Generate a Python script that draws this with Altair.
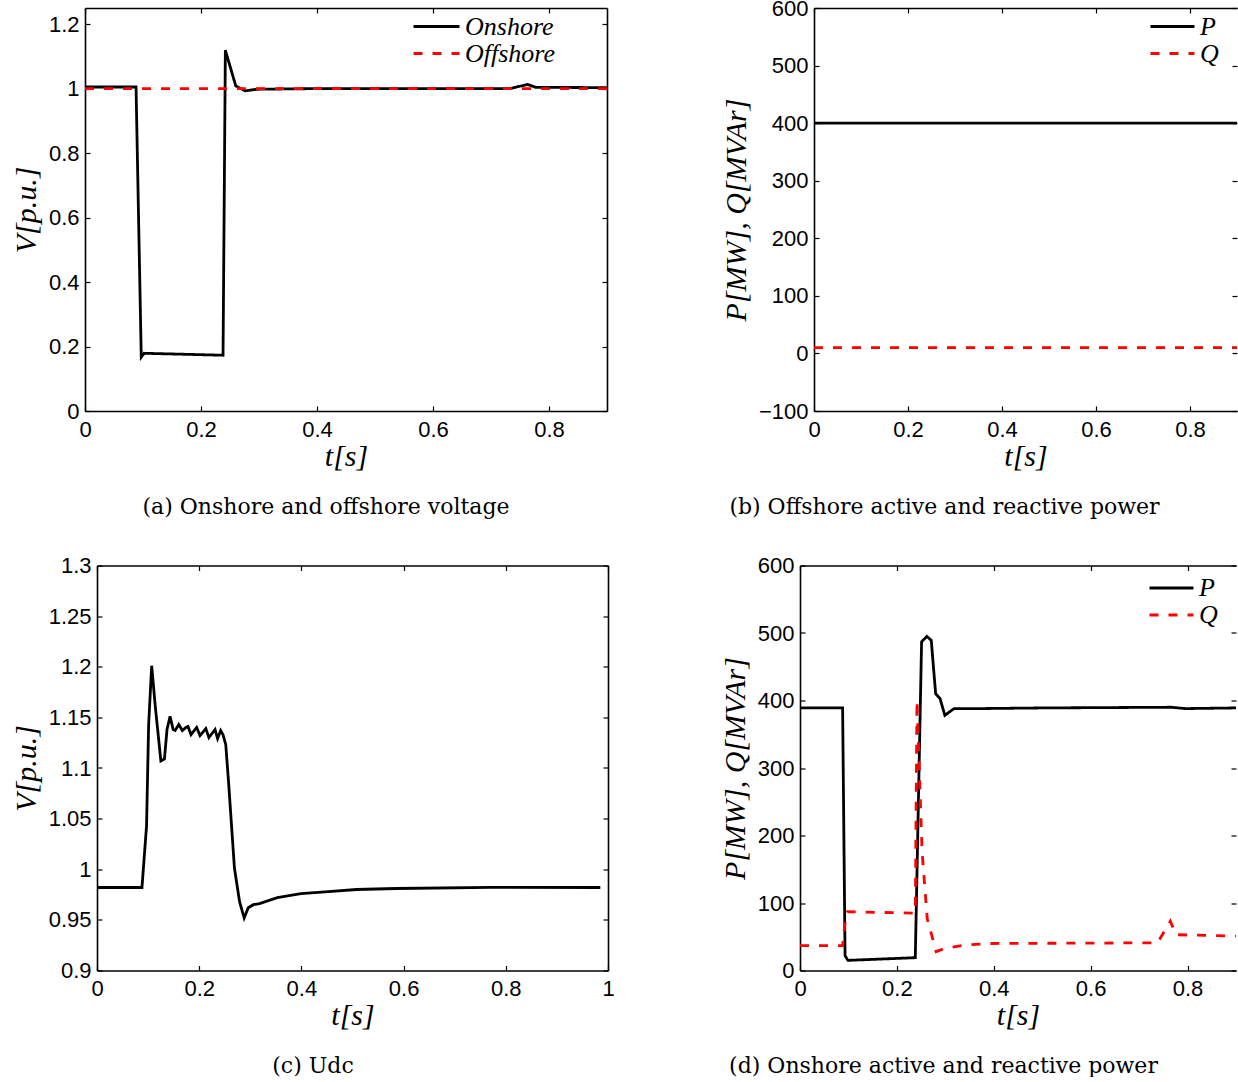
import altair as alt
import pandas as pd

# ---------------- data ----------------
# (a) onshore / offshore voltage
a_on_t = [0.0, 0.088, 0.097, 0.102, 0.238, 0.242, 0.260, 0.276, 0.296, 0.40, 0.733, 0.763, 0.777, 0.9]
a_on_v = [1.005, 1.005, 0.167, 0.179, 0.173, 1.119, 1.008, 0.993, 0.998, 1.0, 1.0, 1.013, 1.004, 1.003]
a_off_t = [0.0, 0.9]
a_off_v = [1.0, 1.0]

# (b) offshore active / reactive power
b_t = [0.0, 0.9]
b_p = [400, 400]
b_q = [10, 10]

# (c) Udc
c_t = [0.0, 0.088, 0.097, 0.101, 0.107, 0.114, 0.125, 0.132, 0.137, 0.143, 0.149, 0.153,
       0.160, 0.167, 0.174, 0.178, 0.184, 0.195, 0.2016, 0.213, 0.219, 0.231, 0.236, 0.242,
       0.2465, 0.252, 0.258, 0.269, 0.279, 0.288, 0.296, 0.306, 0.318, 0.353, 0.399, 0.453,
       0.508, 0.585, 0.771, 0.985]
c_v = [0.982, 0.982, 1.043, 1.142, 1.201, 1.161, 1.107, 1.109, 1.138, 1.151, 1.138, 1.137,
       1.143, 1.137, 1.140, 1.141, 1.133, 1.140, 1.132, 1.139, 1.130, 1.138, 1.129, 1.137,
       1.133, 1.123, 1.082, 1.001, 0.968, 0.952, 0.962, 0.965, 0.966, 0.972, 0.976, 0.978,
       0.980, 0.981, 0.982, 0.982]

# (d) onshore active / reactive power
d_p_t = [0.0, 0.088, 0.093, 0.099, 0.238, 0.251, 0.262, 0.271, 0.280, 0.289, 0.299, 0.318,
         0.37, 0.50, 0.767, 0.795, 0.9]
d_p = [389, 389, 22, 15, 19, 487, 495, 489, 410, 403, 378, 388, 388, 389, 390, 388, 389]
d_q_t = [0.0, 0.088, 0.093, 0.098, 0.238, 0.2415, 0.252, 0.2626, 0.281, 0.30, 0.344, 0.393,
         0.738, 0.7645, 0.776, 0.9]
d_q = [37, 37, 72, 87, 85, 400, 176, 77, 28, 33, 38, 40, 41, 73, 53, 51]

captions = ["(a) Onshore and offshore voltage",
            "(b) Offshore active and reactive power",
            "(c) Udc",
            "(d) Onshore active and reactive power"]

x_ticks_09 = [0, 0.2, 0.4, 0.6, 0.8]
x_ticks_1 = [0, 0.2, 0.4, 0.6, 0.8, 1]
a_y_ticks = [0, 0.2, 0.4, 0.6, 0.8, 1, 1.2]
b_y_ticks = [-100, 0, 100, 200, 300, 400, 500, 600]
c_y_ticks = [0.9, 0.95, 1, 1.05, 1.1, 1.15, 1.2, 1.25, 1.3]
d_y_ticks = [0, 100, 200, 300, 400, 500, 600]


def long_df(parts):
    rows = []
    for name, ts, vs in parts:
        for t, v in zip(ts, vs):
            rows.append({"t": t, "v": v, "series": name})
    return pd.DataFrame(rows)


LABEL = dict(labelFont="Liberation Sans", labelFontSize=22, labelColor="black",
             labelFlush=False, labelOverlap=False)
TITLE = dict(titleFont="Liberation Serif", titleFontSize=30, titleFontStyle="italic",
             titleFontWeight="normal", titleColor="black")
RED = "#ff0000"


def panel(df, xdom, ydom, xt, yt, w, h, ytitle, caption, cap_dx, yfmt,
          sdom=None, leg_x=0, leg_y=0, sym=46, right_border=True):
    xs = alt.Scale(domain=xdom, nice=False, zero=False)
    ys = alt.Scale(domain=ydom, nice=False, zero=False)
    xa = alt.Axis(values=xt, format="~g", title="t[s]", ticks=False, tickSize=0, grid=False,
                  domainColor="black", domainWidth=1.6, labelPadding=8, titlePadding=1,
                  **LABEL, **TITLE)
    ya = alt.Axis(values=yt, format=yfmt, title=ytitle, ticks=False, tickSize=0, grid=False,
                  domainColor="black", domainWidth=1.6, labelPadding=6, titlePadding=7,
                  **LABEL, **TITLE)
    enc = dict(x=alt.X("t:Q", scale=xs, axis=xa), y=alt.Y("v:Q", scale=ys, axis=ya))
    if sdom:
        leg = alt.Legend(title=None, orient="none", legendX=leg_x, legendY=leg_y,
                         symbolType="stroke", symbolSize=sym * sym, symbolStrokeWidth=2.8,
                         labelFont="Liberation Serif", labelFontStyle="italic",
                         labelFontSize=26, labelColor="black", labelOffset=4,
                         clipHeight=23, rowPadding=0, padding=0, symbolOffset=0,
                         labelLimit=400)
        enc["color"] = alt.Color("series:N", scale=alt.Scale(domain=sdom, range=["black", RED]),
                                 legend=leg)
        enc["strokeDash"] = alt.StrokeDash("series:N",
                                           scale=alt.Scale(domain=sdom, range=[[1, 0], [9, 10]]),
                                           legend=leg)
    else:
        enc["color"] = alt.value("black")
    lines = alt.Chart(df).mark_line(strokeWidth=2.8, clip=True).encode(**enc)

    tick_common = dict(labels=False, grid=False, ticks=True, tickSize=5, tickColor="black",
                       tickWidth=1.2, title=None)
    inner1 = alt.Chart(df).mark_line(strokeOpacity=0).encode(
        x=alt.X("t:Q", scale=xs, axis=alt.Axis(orient="top", offset=-h, values=xt,
                                                domain=False, **tick_common)),
        y=alt.Y("v:Q", scale=ys, axis=alt.Axis(orient="right", offset=-w, values=yt,
                                                domain=False, **tick_common)),
    )
    inner2 = alt.Chart(df).mark_line(strokeOpacity=0).encode(
        x=alt.X("t:Q", scale=xs, axis=alt.Axis(orient="bottom", offset=-h, values=xt,
                                                domain=True, domainColor="black",
                                                domainWidth=1.6, **tick_common)),
        y=alt.Y("v:Q", scale=ys, axis=alt.Axis(orient="left", offset=-w, values=yt,
                                                domain=right_border, domainColor="black",
                                                domainWidth=1.6, **tick_common)),
    )
    return alt.layer(lines, inner1, inner2).resolve_axis(
        x="independent", y="independent"
    ).properties(
        width=w, height=h,
        title=alt.TitleParams(caption, orient="bottom", anchor="middle", frame="group",
                              dx=cap_dx, offset=25.5, font="DejaVu Serif", fontSize=22,
                              fontWeight="normal", color="black", baseline="top"),
    )


def spacer():
    return alt.Chart(pd.DataFrame({"s": [0]})).mark_point(opacity=0).encode(
        x=alt.X("s:Q", axis=None), y=alt.Y("s:Q", axis=None)
    ).properties(width=1, height=1)


def indep(c):
    return c.resolve_scale(color="independent", strokeDash="independent").resolve_legend(
        color="independent", strokeDash="independent")


df_a = long_df([("Onshore", a_on_t, a_on_v), ("Offshore", a_off_t, a_off_v)])
df_b = long_df([("P", b_t, b_p), ("Q", b_t, b_q)])
df_c = long_df([("Udc", c_t, c_v)])
df_d = long_df([("P", d_p_t, d_p), ("Q", d_q_t, d_q)])

pa = panel(df_a, [0, 0.9], [0, 1.25], x_ticks_09, a_y_ticks, 522, 403, "V[p.u.]",
           captions[0], -20, "~g", sdom=["Onshore", "Offshore"], leg_x=327, leg_y=7, sym=46)
pb = panel(df_b, [0, 0.9], [-100, 600], x_ticks_09, b_y_ticks, 423, 403, "P[MW], Q[MVAr]",
           captions[1], -81, "d", sdom=["P", "Q"], leg_x=335, leg_y=7, sym=44,
           right_border=False)
pc = panel(df_c, [0, 1], [0.9, 1.3], x_ticks_1, c_y_ticks, 511, 405, "V[p.u.]",
           captions[2], -39.5, "~g")
pdd = panel(df_d, [0, 0.9], [0, 600], x_ticks_09, d_y_ticks, 436, 405, "P[MW], Q[MVAr]",
            captions[3], -74.5, "d", sdom=["P", "Q"], leg_x=348, leg_y=11, sym=44,
            right_border=False)

row1 = indep(alt.hconcat(indep(alt.hconcat(spacer(), pa, spacing=0)), pb, spacing=113))
row2 = indep(alt.hconcat(indep(alt.hconcat(spacer(), pc, spacing=0)), pdd, spacing=105))

chart = indep(alt.vconcat(row1, row2, spacing=36.5)).properties(
    padding={"left": 4, "top": -3, "right": 0, "bottom": 0},
    background="white",
).configure_view(stroke=None)

chart.save("out.html", embed_options={"renderer": "svg", "actions": False})
